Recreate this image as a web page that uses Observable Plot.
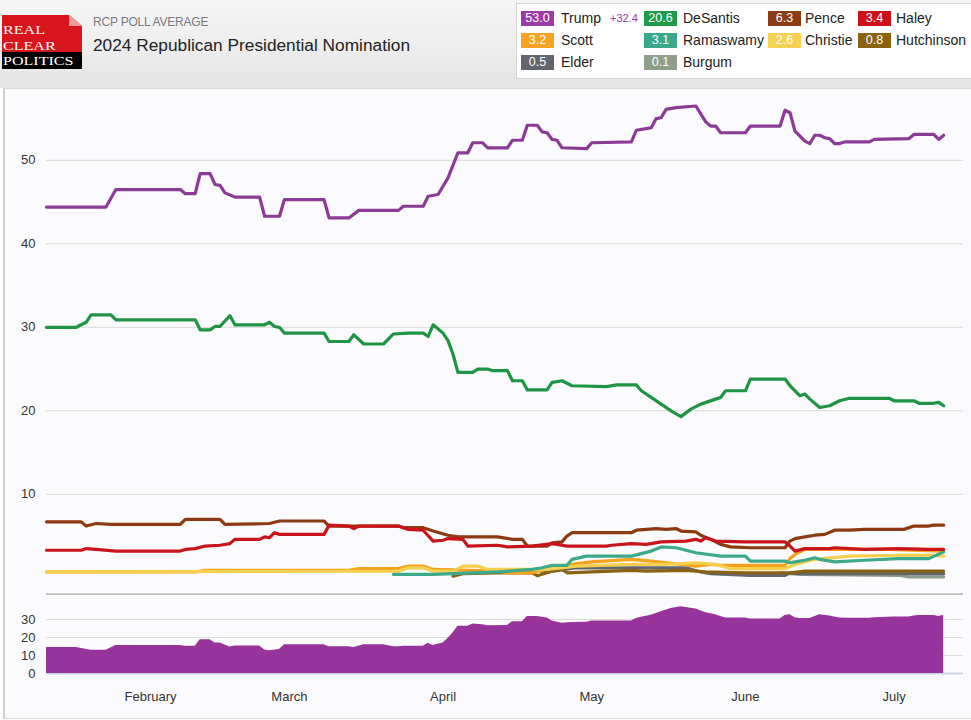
<!DOCTYPE html>
<html>
<head>
<meta charset="utf-8">
<script src="https://cdn.jsdelivr.net/npm/d3@7"></script>
<script src="https://cdn.jsdelivr.net/npm/@observablehq/plot@0.6"></script>
<style>
  html, body { margin: 0; padding: 0; background: #ffffff; }
  body { width: 971px; height: 720px; position: relative; overflow: hidden; font-family: "Liberation Sans", Arial, sans-serif; }
  #header { position: absolute; left: 0; top: 0; width: 971px; height: 88px; background: linear-gradient(to bottom, #f6f6f6, #e5e5e5); }
  #logo { position: absolute; left: 2px; top: 15px; width: 80px; height: 54px; font-family: "Liberation Serif", "Times New Roman", serif; color: #fff; }
  #logo .red { position: absolute; left: 0; top: 0; width: 80px; height: 37px; background: #d8141c; clip-path: polygon(0 0, 84% 0, 100% 30%, 100% 100%, 0 100%); }
  #logo .fold { position: absolute; left: 67px; top: 0; width: 13px; height: 11px; background: #f29a9a; clip-path: polygon(0 0, 100% 100%, 0 100%); }
  #logo .black { position: absolute; left: 0; top: 37px; width: 80px; height: 17px; background: #000; }
  #logo .words { position: absolute; left: 1px; top: 7px; font-size: 13.4px; line-height: 15.7px; white-space: nowrap; transform: scaleX(1.2); transform-origin: 0 0; }
  #sub { position: absolute; left: 93px; top: 15px; font-size: 12px; color: #7a7a7a; letter-spacing: -0.2px; }
  #title { position: absolute; left: 93px; top: 35px; font-size: 17.3px; color: #222; }
  #legend { position: absolute; left: 516px; top: 3px; width: 454px; height: 74px; background: #fff; border: 1px solid #d4d4d4; }
  .sw { position: absolute; width: 33px; height: 15px; color: #fff; font-size: 12.5px; line-height: 15px; text-align: center; }
  .lb { position: absolute; font-size: 14px; line-height: 15px; color: #222; }
  #spreadlbl { position: absolute; font-size: 11px; line-height: 15px; color: #9b3ba8; }
  #box { position: absolute; left: 3px; top: 88px; width: 966px; height: 629px; background: #fbfbfd; border: 1px solid #d8d8d8; border-left: 2px solid #cfcfcf; }
  #main { position: absolute; left: 0; top: 90px; }
  #spread { position: absolute; left: 0; top: 596px; }
</style>
</head>
<body>
<div id="header">
  <div id="logo">
    <div class="red"></div><div class="fold"></div><div class="black"></div>
    <div class="words">REAL<br>CLEAR<br>POLITICS</div>
  </div>
  <div id="sub">RCP POLL AVERAGE</div>
  <div id="title">2024 Republican Presidential Nomination</div>
  <div id="legend"></div>
</div>
<div id="box"></div>
<div id="main"></div>
<div id="spread"></div>
<script>
// ---------------- DATA ----------------
const trump = [["2023-01-11",44.4],["2023-01-23",44.4],["2023-01-25",46.5],["2023-02-07",46.5],["2023-02-08",46.0],["2023-02-10",46.0],["2023-02-11",48.4],["2023-02-13",48.4],["2023-02-14",47.1],["2023-02-15",47.0],["2023-02-16",46.1],["2023-02-18",45.6],["2023-02-23",45.6],["2023-02-24",43.3],["2023-02-27",43.3],["2023-02-28",45.3],["2023-03-08",45.3],["2023-03-09",43.1],["2023-03-13",43.1],["2023-03-15",44.0],["2023-03-23",44.0],["2023-03-24",44.5],["2023-03-28",44.5],["2023-03-29",45.7],["2023-03-31",45.9],["2023-04-02",47.9],["2023-04-04",50.9],["2023-04-06",50.9],["2023-04-07",52.1],["2023-04-09",52.1],["2023-04-10",51.5],["2023-04-14",51.5],["2023-04-15",52.4],["2023-04-17",52.4],["2023-04-18",54.2],["2023-04-20",54.2],["2023-04-21",53.4],["2023-04-22",53.3],["2023-04-23",52.5],["2023-04-24",52.4],["2023-04-25",51.5],["2023-04-30",51.4],["2023-05-01",52.1],["2023-05-09",52.2],["2023-05-10",53.6],["2023-05-12",53.8],["2023-05-13",53.9],["2023-05-14",55.0],["2023-05-15",55.1],["2023-05-16",56.1],["2023-05-18",56.3],["2023-05-22",56.5],["2023-05-24",54.6],["2023-05-25",54.1],["2023-05-26",54.1],["2023-05-27",53.3],["2023-06-01",53.3],["2023-06-02",54.1],["2023-06-08",54.1],["2023-06-09",56.0],["2023-06-10",55.7],["2023-06-11",53.5],["2023-06-13",52.3],["2023-06-14",52.0],["2023-06-15",53.0],["2023-06-16",53.0],["2023-06-17",52.7],["2023-06-18",52.6],["2023-06-19",52.0],["2023-06-20",52.0],["2023-06-21",52.2],["2023-06-26",52.2],["2023-06-27",52.5],["2023-07-04",52.6],["2023-07-05",53.1],["2023-07-09",53.1],["2023-07-10",52.5],["2023-07-11",53.0]];

const desantis = [["2023-01-11",30.0],["2023-01-17",30.0],["2023-01-19",30.6],["2023-01-20",31.5],["2023-01-24",31.5],["2023-01-25",30.9],["2023-02-10",30.9],["2023-02-11",29.7],["2023-02-13",29.7],["2023-02-14",30.1],["2023-02-15",30.1],["2023-02-17",31.4],["2023-02-18",30.3],["2023-02-24",30.3],["2023-02-25",30.6],["2023-02-26",30.1],["2023-02-27",30.0],["2023-02-28",29.3],["2023-03-08",29.3],["2023-03-09",28.3],["2023-03-13",28.3],["2023-03-14",29.1],["2023-03-16",28.0],["2023-03-20",28.0],["2023-03-22",29.2],["2023-03-25",29.3],["2023-03-28",29.3],["2023-03-29",28.9],["2023-03-30",30.3],["2023-04-01",29.3],["2023-04-02",28.4],["2023-04-03",26.8],["2023-04-04",24.6],["2023-04-07",24.6],["2023-04-08",25.0],["2023-04-10",25.0],["2023-04-11",24.8],["2023-04-14",24.8],["2023-04-15",23.6],["2023-04-17",23.6],["2023-04-18",22.5],["2023-04-22",22.5],["2023-04-23",23.4],["2023-04-25",23.6],["2023-04-27",23.0],["2023-05-04",22.9],["2023-05-06",23.1],["2023-05-10",23.1],["2023-05-11",22.4],["2023-05-13",21.6],["2023-05-15",20.8],["2023-05-17",20.0],["2023-05-19",19.3],["2023-05-21",20.2],["2023-05-23",20.8],["2023-05-26",21.4],["2023-05-27",21.6],["2023-05-28",22.4],["2023-06-01",22.4],["2023-06-02",23.8],["2023-06-09",23.8],["2023-06-10",23.0],["2023-06-12",21.8],["2023-06-13",22.0],["2023-06-14",21.4],["2023-06-16",20.4],["2023-06-18",20.6],["2023-06-20",21.2],["2023-06-22",21.5],["2023-06-30",21.5],["2023-07-01",21.2],["2023-07-05",21.2],["2023-07-06",20.9],["2023-07-09",20.9],["2023-07-10",21.0],["2023-07-11",20.6]];

const pence = [["2023-01-11",6.7],["2023-01-18",6.7],["2023-01-19",6.2],["2023-01-21",6.5],["2023-01-24",6.4],["2023-02-07",6.4],["2023-02-08",7.0],["2023-02-15",7.0],["2023-02-16",6.4],["2023-02-25",6.5],["2023-02-27",6.8],["2023-03-08",6.8],["2023-03-09",6.2],["2023-03-23",6.2],["2023-03-24",6.0],["2023-03-28",6.0],["2023-03-30",5.6],["2023-04-02",5.1],["2023-04-04",4.9],["2023-04-12",4.9],["2023-04-15",4.6],["2023-04-17",4.6],["2023-04-18",3.8],["2023-04-22",3.8],["2023-04-23",4.2],["2023-04-25",4.3],["2023-04-26",5.0],["2023-04-27",5.4],["2023-05-09",5.4],["2023-05-10",5.7],["2023-05-14",5.9],["2023-05-16",5.8],["2023-05-18",5.9],["2023-05-19",5.6],["2023-05-22",5.5],["2023-05-23",5.1],["2023-05-25",4.6],["2023-05-27",4.0],["2023-05-29",3.7],["2023-06-02",3.6],["2023-06-09",3.6],["2023-06-10",4.4],["2023-06-11",4.7],["2023-06-13",4.9],["2023-06-15",5.1],["2023-06-17",5.2],["2023-06-19",5.7],["2023-06-22",5.7],["2023-06-25",5.8],["2023-07-03",5.8],["2023-07-05",6.2],["2023-07-08",6.2],["2023-07-09",6.3],["2023-07-11",6.3]];

const haley = [["2023-01-11",3.3],["2023-01-18",3.3],["2023-01-19",3.5],["2023-01-21",3.4],["2023-01-25",3.2],["2023-02-07",3.2],["2023-02-08",3.4],["2023-02-10",3.5],["2023-02-12",3.8],["2023-02-15",3.9],["2023-02-17",4.1],["2023-02-18",4.6],["2023-02-23",4.6],["2023-02-24",4.9],["2023-02-25",4.8],["2023-02-26",5.4],["2023-02-27",5.2],["2023-03-08",5.2],["2023-03-09",6.3],["2023-03-13",6.2],["2023-03-14",5.9],["2023-03-15",6.2],["2023-03-23",6.2],["2023-03-25",5.8],["2023-03-28",5.7],["2023-03-30",4.4],["2023-04-01",4.5],["2023-04-02",4.7],["2023-04-05",4.6],["2023-04-06",3.8],["2023-04-12",3.9],["2023-04-14",3.7],["2023-04-19",3.8],["2023-04-23",4.1],["2023-04-24",4.0],["2023-04-26",3.8],["2023-05-04",3.8],["2023-05-05",3.9],["2023-05-09",4.1],["2023-05-12",4.0],["2023-05-15",4.3],["2023-05-20",4.4],["2023-05-22",4.6],["2023-05-23",4.4],["2023-05-24",4.8],["2023-05-26",4.4],["2023-06-01",4.3],["2023-06-09",4.3],["2023-06-10",3.8],["2023-06-11",3.2],["2023-06-13",3.5],["2023-06-18",3.5],["2023-06-19",3.6],["2023-06-25",3.4],["2023-07-02",3.5],["2023-07-08",3.4],["2023-07-11",3.4]];

const scott = [["2023-01-11",0.7],["2023-02-10",0.7],["2023-02-12",0.9],["2023-03-13",0.9],["2023-03-15",1.1],["2023-03-23",1.1],["2023-03-25",1.4],["2023-03-28",1.4],["2023-03-30",1.0],["2023-04-12",0.8],["2023-04-14",0.6],["2023-04-19",0.6],["2023-04-23",1.2],["2023-04-28",1.7],["2023-05-01",1.9],["2023-05-09",2.2],["2023-05-13",2.0],["2023-05-16",1.8],["2023-05-22",1.4],["2023-05-25",1.6],["2023-05-27",1.5],["2023-06-09",1.5],["2023-06-10",2.3],["2023-06-11",2.8],["2023-06-13",3.4],["2023-06-30",3.4],["2023-07-11",3.2]];

const christie = [["2023-01-11",0.7],["2023-03-23",0.8],["2023-03-25",1.2],["2023-03-28",1.2],["2023-03-30",0.8],["2023-04-03",0.8],["2023-04-05",1.4],["2023-04-08",1.4],["2023-04-10",1.0],["2023-04-22",1.0],["2023-04-28",1.4],["2023-05-09",1.6],["2023-05-16",1.6],["2023-05-22",1.8],["2023-05-26",1.6],["2023-05-29",1.1],["2023-06-09",1.1],["2023-06-11",1.6],["2023-06-15",2.2],["2023-06-22",2.6],["2023-07-02",2.7],["2023-07-09",2.7],["2023-07-11",2.6]];

const ramaswamy = [["2023-03-22",0.4],["2023-03-30",0.4],["2023-04-03",0.5],["2023-04-12",0.7],["2023-04-19",1.0],["2023-04-21",1.2],["2023-04-23",1.5],["2023-04-26",1.5],["2023-04-27",2.2],["2023-04-30",2.6],["2023-05-09",2.6],["2023-05-13",3.2],["2023-05-15",3.7],["2023-05-18",3.6],["2023-05-22",3.0],["2023-05-27",2.6],["2023-06-01",2.6],["2023-06-02",2.0],["2023-06-09",2.0],["2023-06-10",1.8],["2023-06-11",1.9],["2023-06-13",2.1],["2023-06-15",2.4],["2023-06-16",2.2],["2023-06-19",1.9],["2023-06-25",2.1],["2023-07-02",2.3],["2023-07-08",2.3],["2023-07-11",3.1]];

const hutchinson = [["2023-04-03",0.2],["2023-04-05",0.5],["2023-04-12",0.6],["2023-04-19",0.6],["2023-04-20",0.25],["2023-04-23",0.8],["2023-04-25",1.0],["2023-04-26",0.6],["2023-05-01",0.7],["2023-05-09",0.9],["2023-05-12",0.8],["2023-05-20",0.9],["2023-05-24",0.7],["2023-06-01",0.6],["2023-06-10",0.6],["2023-06-13",0.8],["2023-07-11",0.8]];

const elder = [["2023-04-21",0.6],["2023-04-28",1.2],["2023-05-20",1.2],["2023-05-23",0.7],["2023-05-25",0.5],["2023-06-02",0.3],["2023-06-09",0.3],["2023-06-10",0.6],["2023-06-12",0.5],["2023-07-11",0.5]];

const burgum = [["2023-06-08",0.6],["2023-06-12",0.4],["2023-07-02",0.3],["2023-07-04",0.1],["2023-07-11",0.1]];

// Trump lead over DeSantis (lower panel)
const spread = [["2023-01-11",14.4],["2023-01-17",14.4],["2023-01-20",12.9],["2023-01-23",12.9],["2023-01-25",15.6],["2023-02-07",15.6],["2023-02-08",15.1],["2023-02-10",15.1],["2023-02-11",18.7],["2023-02-13",18.7],["2023-02-14",17.0],["2023-02-15",16.9],["2023-02-17",14.7],["2023-02-18",15.3],["2023-02-23",15.3],["2023-02-24",13.0],["2023-02-25",12.7],["2023-02-27",13.3],["2023-02-28",16.0],["2023-03-08",16.0],["2023-03-09",14.8],["2023-03-13",14.8],["2023-03-14",14.4],["2023-03-16",16.0],["2023-03-20",16.0],["2023-03-22",14.8],["2023-03-23",14.8],["2023-03-24",15.2],["2023-03-28",15.2],["2023-03-29",16.8],["2023-03-30",15.5],["2023-04-01",17.0],["2023-04-02",19.5],["2023-04-03",22.5],["2023-04-04",26.3],["2023-04-06",26.3],["2023-04-07",27.5],["2023-04-09",27.1],["2023-04-10",26.5],["2023-04-14",26.7],["2023-04-15",28.8],["2023-04-17",28.8],["2023-04-18",31.7],["2023-04-20",31.7],["2023-04-22",30.8],["2023-04-23",29.1],["2023-04-25",27.9],["2023-04-27",28.4],["2023-04-30",28.5],["2023-05-01",29.2],["2023-05-09",29.1],["2023-05-10",30.5],["2023-05-11",31.2],["2023-05-13",32.3],["2023-05-15",34.3],["2023-05-17",36.1],["2023-05-19",37.1],["2023-05-21",36.3],["2023-05-22",35.9],["2023-05-24",33.8],["2023-05-26",32.7],["2023-05-27",31.7],["2023-05-28",30.9],["2023-06-01",30.9],["2023-06-02",30.3],["2023-06-08",30.3],["2023-06-09",32.2],["2023-06-10",32.7],["2023-06-11",31.0],["2023-06-12",30.5],["2023-06-14",30.6],["2023-06-16",32.6],["2023-06-18",32.0],["2023-06-19",31.4],["2023-06-20",30.8],["2023-06-22",30.7],["2023-06-26",30.7],["2023-06-27",31.0],["2023-07-01",31.4],["2023-07-04",31.4],["2023-07-05",31.9],["2023-07-06",32.2],["2023-07-09",32.2],["2023-07-10",31.6],["2023-07-11",32.4]];

const candidates = ["Trump","DeSantis","Pence","Haley","Scott","Ramaswamy","Christie","Hutchinson","Elder","Burgum"];
const lineColors = ["#8b3a95","#1f9444","#8b3a12","#c9141b","#f4a11d","#3ba98a","#f6cf4e","#8a6212","#62646e","#8c9c8a"];
const swatchColors = ["#9b3ba8","#1e9a4a","#8a3d12","#d01018","#f5a320","#3aa88a","#f7d154","#8b6210","#62656e","#8e9e8b"];
const drawOrder = ["Burgum","Elder","Hutchinson","Scott","Christie","Ramaswamy","Pence","Haley","DeSantis","Trump"];

const xDomainDates = ["2023-01-11","2023-07-15"];
const monthTicks = ["2023-02-01","2023-03-01","2023-04-01","2023-05-01","2023-06-01","2023-07-01"];
const monthLabels = ["February","March","April","May","June","July"];
const mainYTicks = [10,20,30,40,50];
const spreadYTicks = [0,10,20,30];
const areaColor = "#97339a";

// ---------------- BUILD ----------------
const parse = d3.utcParse("%Y-%m-%d");
const series = {Trump: trump, DeSantis: desantis, Pence: pence, Haley: haley, Scott: scott,
  Ramaswamy: ramaswamy, Christie: christie, Hutchinson: hutchinson, Elder: elder, Burgum: burgum};
const toRows = arr => arr.map(([d, v]) => ({date: parse(d), value: v}));
const colorOf = Object.fromEntries(candidates.map((c, i) => [c, lineColors[i]]));
const xDomain = xDomainDates.map(parse);
const tickDates = monthTicks.map(parse);
const font = '"Liberation Sans", Arial, sans-serif';

const mainPlot = Plot.plot({
  width: 971, height: 505,
  marginLeft: 46, marginRight: 8, marginTop: 3, marginBottom: 1,
  style: {background: "transparent", fontFamily: font, fontSize: "13px", color: "#333"},
  x: {type: "utc", domain: xDomain, axis: null},
  y: {domain: [-2, 58], ticks: mainYTicks, tickSize: 0, tickPadding: 11, label: null},
  marks: [
    Plot.ruleY(mainYTicks, {stroke: "#d9d9d9", strokeWidth: 1}),
    Plot.ruleY([-2], {stroke: "#bdbdbd", strokeWidth: 2.5}),
    ...drawOrder.map(name => Plot.line(toRows(series[name]), {
      x: "date", y: "value", stroke: colorOf[name], strokeWidth: 3.2,
      strokeLinejoin: "round", strokeLinecap: "round"
    }))
  ]
});
document.getElementById("main").appendChild(mainPlot);

const spreadPlot = Plot.plot({
  width: 971, height: 122,
  marginLeft: 46, marginRight: 8, marginTop: 5, marginBottom: 45,
  style: {background: "transparent", fontFamily: font, fontSize: "13px", color: "#333"},
  x: {type: "utc", domain: xDomain, ticks: tickDates,
      tickFormat: d => monthLabels[tickDates.findIndex(t => +t === +d)],
      tickSize: 0, tickPadding: 18, label: null},
  y: {domain: [0, 40], ticks: spreadYTicks, tickSize: 0, tickPadding: 11, label: null},
  marks: [
    Plot.ruleY(spreadYTicks.filter(t => t > 0), {stroke: "#dcdcdc", strokeWidth: 1}),
    Plot.ruleY([0], {stroke: "#c9d3e6", strokeWidth: 2}),
    Plot.areaY(toRows(spread), {x: "date", y: "value", fill: areaColor})
  ]
});
document.getElementById("spread").appendChild(spreadPlot);

// ---------------- LEGEND ----------------
const legend = document.getElementById("legend");
const colSwatchX = [4, 127, 251, 341];
const colLabelX = [44, 166, 288, 379];
const rowY = [7, 29, 51];
candidates.forEach((name, i) => {
  const col = i % 4, row = Math.floor(i / 4);
  const data = series[name];
  const last = data[data.length - 1][1];
  const sw = document.createElement("div");
  sw.className = "sw";
  sw.style.left = colSwatchX[col] + "px";
  sw.style.top = rowY[row] + "px";
  sw.style.background = swatchColors[i];
  sw.textContent = last.toFixed(1);
  legend.appendChild(sw);
  const lb = document.createElement("div");
  lb.className = "lb";
  lb.style.left = colLabelX[col] + "px";
  lb.style.top = rowY[row] + "px";
  lb.textContent = name;
  legend.appendChild(lb);
});
const lead = trump[trump.length - 1][1] - desantis[desantis.length - 1][1];
const sl = document.createElement("div");
sl.id = "spreadlbl";
sl.style.left = "93px";
sl.style.top = rowY[0] + "px";
sl.textContent = "+" + lead.toFixed(1);
legend.appendChild(sl);
</script>
</body>
</html>
